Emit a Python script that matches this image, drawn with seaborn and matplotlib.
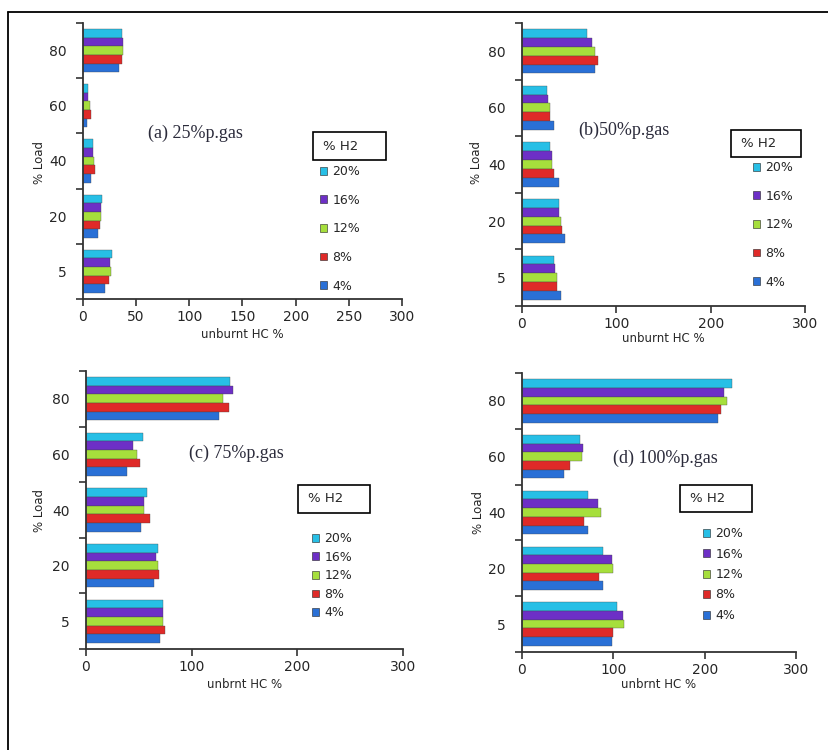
import numpy as np
import matplotlib
matplotlib.use('Agg')
import matplotlib.pyplot as plt
import pandas as pd
import seaborn as sns
from matplotlib.patches import Rectangle
from matplotlib.lines import Line2D

# categories
loads = ['80', '60', '40', '20', '5']
h2_levels = ['20%', '16%', '12%', '8%', '4%']

# unburnt HC values, order of loads: 80, 60, 40, 20, 5
a_h20 = [36.4, 5.0, 9.1, 18.2, 27.3]
a_h16 = [37.6, 5.0, 9.1, 16.9, 25.7]
a_h12 = [37.6, 6.6, 10.4, 16.9, 26.0]
a_h8 = [36.4, 7.8, 11.6, 15.7, 24.5]
a_h4 = [33.9, 4.0, 7.8, 14.4, 21.0]

b_h20 = [68.8, 26.5, 29.3, 39.5, 33.9]
b_h16 = [74.5, 27.9, 32.1, 39.5, 35.3]
b_h12 = [77.6, 29.3, 32.1, 40.9, 36.7]
b_h8 = [80.5, 29.3, 33.9, 42.4, 36.7]
b_h4 = [77.6, 33.9, 39.5, 45.5, 40.9]

c_h20 = [136.3, 53.5, 57.3, 67.7, 73.0]
c_h16 = [139.4, 44.4, 54.8, 66.4, 73.0]
c_h12 = [130.0, 48.2, 54.8, 67.7, 73.0]
c_h8 = [135.0, 50.7, 60.1, 69.2, 74.3]
c_h4 = [126.2, 39.0, 52.3, 63.9, 70.5]

d_h20 = [229.8, 63.6, 72.7, 89.2, 104.5]
d_h16 = [220.7, 66.5, 83.3, 98.3, 110.3]
d_h12 = [225.0, 65.4, 86.6, 99.7, 112.2]
d_h8 = [217.4, 53.0, 68.0, 84.8, 99.7]
d_h4 = [214.5, 45.7, 72.7, 89.2, 98.3]

colors = ['#27bfe6', '#6d2fc6', '#a6df3c', '#df2a28', '#2a70d6']
pal = dict(zip(h2_levels, colors))


def make_frame(series):
    rows = []
    for h2, vals in zip(h2_levels, series):
        for ld, v in zip(loads, vals):
            rows.append({'Load': ld, 'H2': h2, 'HC': v})
    return pd.DataFrame(rows)


panels = [
    dict(data=[a_h20, a_h16, a_h12, a_h8, a_h4], pos=[83, 23, 402, 299],
         xticks=[0, 50, 100, 150, 200, 250, 300], xlabel='unburnt HC %',
         title='(a) 25%p.gas', tpos=(148, 133), ylab=(40, 162), xlab=(242, 334),
         box=(313, 132, 386, 160), leg=(320, 165), spacing=1.25),
    dict(data=[b_h20, b_h16, b_h12, b_h8, b_h4], pos=[522, 23, 805, 306],
         xticks=[0, 100, 200, 300], xlabel='unburnt HC %',
         title='(b)50%p.gas', tpos=(578, 130), ylab=(477, 163), xlab=(663, 339),
         box=(731, 130, 801, 157), leg=(753, 161), spacing=1.25),
    dict(data=[c_h20, c_h16, c_h12, c_h8, c_h4], pos=[86, 371, 403, 649],
         xticks=[0, 100, 200, 300], xlabel='unbrnt HC %',
         title='(c) 75%p.gas', tpos=(189, 453), ylab=(40, 510), xlab=(245, 684),
         box=(298, 485, 370, 513), leg=(312, 532), spacing=0.45),
    dict(data=[d_h20, d_h16, d_h12, d_h8, d_h4], pos=[522, 373, 796, 652],
         xticks=[0, 100, 200, 300], xlabel='unbrnt HC %',
         title='(d) 100%p.gas', tpos=(613, 458), ylab=(479, 513), xlab=(659, 685),
         box=(680, 485, 752, 512), leg=(703, 527), spacing=0.6),
]

W, H = 829, 750
sns.set_style('white')
plt.rcParams['font.family'] = ['DejaVu Sans']
fig = plt.figure(figsize=(W / 100, H / 100), dpi=100)


def fx(x):
    return x / W


def fy(y):
    return 1 - y / H


for p in panels:
    x0, y0, x1, y1 = p['pos']
    ax = fig.add_axes([fx(x0), fy(y1), (x1 - x0) / W, (y1 - y0) / H])
    df = make_frame(p['data'])
    sns.barplot(data=df, x='HC', y='Load', hue='H2', order=loads, hue_order=h2_levels,
                palette=pal, orient='h', width=0.78, gap=0, ax=ax, saturation=1,
                edgecolor='#444444', linewidth=0.25, legend=False)
    ax.set_xlim(0, 300)
    ax.set_ylim(4.5, -0.5)
    ax.set_xticks(p['xticks'])
    ax.set_xticklabels([str(t) for t in p['xticks']], fontsize=10)
    ax.set_yticks(np.arange(-0.5, 5, 1))
    ax.set_yticklabels([])
    ax.set_yticks(range(5), minor=True)
    ax.set_yticklabels(loads, minor=True, fontsize=10)
    ax.tick_params(axis='y', which='minor', length=0, pad=12)
    ax.tick_params(axis='both', which='major', length=5, width=1.2, color='#333333',
                   direction='out')
    ax.tick_params(axis='x', pad=3)
    ax.xaxis.set_tick_params(bottom=True)
    ax.yaxis.set_tick_params(left=True)
    for s in ['top', 'right']:
        ax.spines[s].set_visible(False)
    for s in ['left', 'bottom']:
        ax.spines[s].set_color('#333333')
        ax.spines[s].set_linewidth(1.3)
    ax.set_xlabel('')
    ax.set_ylabel('')
    ax.set_facecolor('none')

    fig.text(fx(p['tpos'][0]), fy(p['tpos'][1]), p['title'], family='Liberation Serif',
             fontsize=13, color='#2b2b3b', va='center', ha='left')
    fig.text(fx(p['ylab'][0]), fy(p['ylab'][1]), '% Load', rotation=90, fontsize=8.5,
             ha='center', va='center')
    fig.text(fx(p['xlab'][0]), fy(p['xlab'][1]), p['xlabel'], fontsize=8.5,
             ha='center', va='center')

    bx0, by0, bx1, by1 = p['box']
    fig.add_artist(Rectangle((fx(bx0), fy(by1)), (bx1 - bx0) / W, (by1 - by0) / H,
                             transform=fig.transFigure, fill=False, edgecolor='black',
                             linewidth=1.2))
    fig.text(fx(bx0 + 10), fy((by0 + by1) / 2), '% H2', fontsize=9.5, va='center', ha='left')

    handles = [Rectangle((0, 0), 1, 1, facecolor=c, edgecolor='#222222', linewidth=0.4)
               for c in colors]
    fig.legend(handles, h2_levels, loc='upper left',
               bbox_to_anchor=(fx(p['leg'][0]), fy(p['leg'][1])),
               bbox_transform=fig.transFigure, frameon=False, fontsize=9,
               handlelength=0.6, handleheight=0.6, handletextpad=0.4,
               labelspacing=p['spacing'], borderpad=0, borderaxespad=0)

# outer frame lines
fig.add_artist(Line2D([fx(8), 1], [fy(12), fy(12)], transform=fig.transFigure,
                      color='black', linewidth=1.3))
fig.add_artist(Line2D([fx(8), fx(8)], [fy(12), 0], transform=fig.transFigure,
                      color='black', linewidth=1.3))

fig.savefig('out.png', dpi=100)
